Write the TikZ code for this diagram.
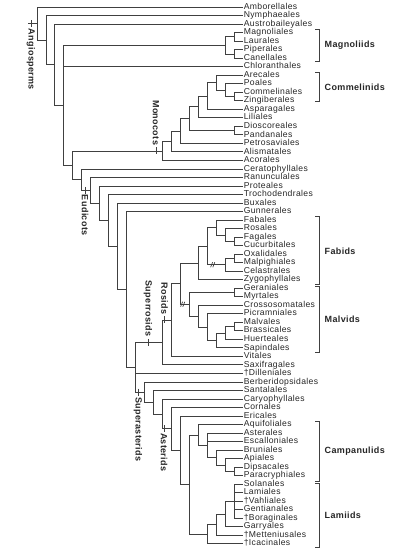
\documentclass[tikz,border=0pt]{standalone}
\usepackage{fontspec}
\setmainfont{Liberation Sans}
\newfontfamily\treefont[LetterSpace=4]{Liberation Sans}
\usetikzlibrary{calc}
\tikzset{
  leaf/.style={anchor=west, inner xsep=0.6pt, inner ysep=0pt, text=black!85,
    text height=6.2pt, text depth=1.8pt,
    font=\treefont\fontsize{8.6}{8.6}\selectfont},
  br/.style={draw=black!75, line width=0.7pt},
  brk/.style={draw=black!75, line width=0.7pt},
  grp/.style={inner sep=0.5pt, text=black!85,
    font=\treefont\fontsize{9}{9}\selectfont\bfseries},
  vgrp/.style={grp, rotate=-90}
}
% clade: name, height, first child, last child, all children
\newcommand\clade[5]{%
  \path let \p1=($(#3)!.5!(#4)$) in ({243pt-8.96pt*#2},\y1) coordinate (#1);
  \foreach \c in {#5} \draw[br] (#1) |- (\c);}

\begin{document}
\begin{tikzpicture}[x=1pt, y=-1pt]
\useasboundingbox (0,0) rectangle (417,557);

% orders, top to bottom
\foreach \t [count=\i] in {Amborellales, Nymphaeales, Austrobaileyales,
  Magnoliales, Laurales, Piperales, Canellales, Chloranthales, Arecales,
  Poales, Commelinales, Zingiberales, Asparagales, Liliales, Dioscoreales,
  Pandanales, Petrosaviales, Alismatales, Acorales, Ceratophyllales,
  Ranunculales, Proteales, Trochodendrales, Buxales, Gunnerales, Fabales,
  Rosales, Fagales, Cucurbitales, Oxalidales, Malpighiales, Celastrales,
  Zygophyllales, Geraniales, Myrtales, Crossosomatales, Picramniales,
  Malvales, Brassicales, Huerteales, Sapindales, Vitales, Saxifragales,
  †Dilleniales, Berberidopsidales, Santalales, Caryophyllales, Cornales,
  Ericales, Aquifoliales, Asterales, Escalloniales, Bruniales, Apiales,
  Dipsacales, Paracryphiales, Solanales, Lamiales, †Vahliales, Gentianales,
  †Boraginales, Garryales, †Metteniusales, †Icacinales}
  \node[leaf] (l\i) at (243, {7+(\i-1)*8.52}) {\t};

% magnoliids
\clade{ml}{1}{l4}{l5}{l4,l5}
\clade{pc}{1}{l6}{l7}{l6,l7}
\clade{magn}{2}{ml}{pc}{ml,pc}
% monocots
\clade{cw}{1}{l11}{l12}{l11,l12}
\clade{cpz}{2}{l10}{cw}{l10,cw}
\clade{cmd}{3}{l9}{cpz}{l9,cpz}
\clade{asq}{4}{cmd}{l13}{cmd,l13}
\clade{lln}{5}{asq}{l14}{asq,l14}
\clade{dp}{1}{l15}{l16}{l15,l16}
\clade{ndl}{6}{lln}{dp}{lln,dp}
\clade{npt}{7}{ndl}{l17}{ndl,l17}
\clade{nal}{8}{npt}{l18}{npt,l18}
\clade{mono}{9}{nal}{l19}{nal,l19}
% fabids
\clade{fc}{1}{l28}{l29}{l28,l29}
\clade{rfc}{2}{l27}{fc}{l27,fc}
\clade{nfx}{3}{l26}{rfc}{l26,rfc}
\clade{om}{1}{l30}{l31}{l30,l31}
\clade{com}{2}{om}{l32}{om,l32}
\clade{nfc}{4}{nfx}{com}{nfx,com}
\clade{fab}{5}{nfc}{l33}{nfc,l33}
% malvids
\clade{gm}{1}{l34}{l35}{l34,l35}
\clade{mb}{1}{l38}{l39}{l38,l39}
\clade{mbh}{2}{mb}{l40}{mb,l40}
\clade{mbs}{3}{mbh}{l41}{mbh,l41}
\clade{pic}{4}{l37}{mbs}{l37,mbs}
\clade{cro}{5}{l36}{pic}{l36,pic}
\clade{malv}{6}{gm}{cro}{gm,cro}
\clade{fm}{7}{fab}{malv}{fab,malv}
\clade{ros}{8}{fm}{l42}{fm,l42}
\clade{srs}{9}{ros}{l43}{ros,l43}
% campanulids, lamiids
\clade{dpp}{1}{l55}{l56}{l55,l56}
\clade{adp}{2}{l54}{dpp}{l54,dpp}
\clade{badp}{3}{l53}{adp}{l53,adp}
\clade{aeb}{4}{l51}{badp}{l51,l52,badp}
\clade{camp}{5}{l50}{aeb}{l50,aeb}
\clade{lpol}{1}{l57}{l61}{l57,l58,l59,l60,l61}
\clade{lgar}{2}{lpol}{l62}{lpol,l62}
\clade{lmet}{3}{lgar}{l63}{lgar,l63}
\clade{lam}{4}{lmet}{l64}{lmet,l64}
\clade{cl}{6}{camp}{lam}{camp,lam}
\clade{el}{7}{l49}{cl}{l49,cl}
\clade{ast}{8}{l48}{el}{l48,el}
\clade{ca}{9}{l47}{ast}{l47,ast}
\clade{sca}{10}{l46}{ca}{l46,ca}
\clade{sas}{11}{l45}{sca}{l45,sca}
% backbone
\clade{core}{12}{srs}{sas}{srs,l44,sas}
\clade{nd}{13}{l25}{core}{l25,core}
\clade{nc}{14}{l24}{nd}{l24,nd}
\clade{nb}{15}{l23}{nc}{l23,nc}
\clade{na}{16}{l22}{nb}{l22,nb}
\clade{eud}{17}{l21}{na}{l21,na}
\clade{cer}{18}{l20}{eud}{l20,eud}
\clade{mes}{19}{mono}{cer}{mono,cer}
\clade{mesa}{20}{magn}{mes}{magn,l8,mes}
\clade{n55}{21}{l3}{mesa}{l3,mesa}
\clade{n46}{22}{l2}{n55}{l2,n55}
\clade{root}{23}{l1}{n46}{l1,n46}

% root stem
\path let \p1=(root) in (28pt,\y1) coordinate (rb) (31pt,\y1) coordinate (tang);
\draw[br] (rb) -- (root);

% clade marks
\path let \p1=(mono) in (156pt,\y1) coordinate (tmono);
\path let \p1=(eud) in (85pt,\y1) coordinate (teud);
\path let \p1=(srs) in (148pt,\y1) coordinate (tsrs);
\path let \p1=(ros) in (164.5pt,\y1) coordinate (tros);
\path let \p1=(sas) in (138pt,\y1) coordinate (tsas);
\path let \p1=(ast) in (164pt,\y1) coordinate (tast);
\foreach \m in {tang,tmono,teud,tsrs,tros,tsas,tast}
  \draw[br] ([yshift=3.5pt]\m) -- ([yshift=-3.5pt]\m);

\node[vgrp, anchor=west] at ([yshift=-4.5pt]tang) {Angiosperms};
\node[vgrp, anchor=east] at ([yshift=5pt]tmono) {Monocots};
\node[vgrp, anchor=west] at ([yshift=-4pt]teud) {Eudicots};
\node[vgrp, anchor=east] at ([yshift=5pt]tsrs) {Superrosids};
\node[vgrp, anchor=east] at ([yshift=5pt]tros) {Rosids};
\node[vgrp, anchor=west] at ([yshift=-4.5pt]tsas) {Superasterids};
\node[vgrp, anchor=west] at ([yshift=-3.5pt]tast) {Asterids};

% uncertain placement marks
\path let \p1=(com) in (213pt,\y1) coordinate (scom);
\path let \p1=(malv) in (183pt,\y1) coordinate (smalv);
\foreach \m in {scom,smalv} {
  \draw[br] ([shift={(-2.4pt,-2.5pt)}]\m) -- ++(2pt,5pt);
  \draw[br] ([shift={(-0.2pt,-2.5pt)}]\m) -- ++(2pt,5pt);
}

% brackets
\draw[brk] (315,29) -| (319,61) -- (315,61);
\draw[brk] (315,72) -| (319,101) -- (315,101);
\draw[brk] (315,216) -| (319,284) -- (315,284);
\draw[brk] (315,286.5) -| (319,352) -- (315,352);
\draw[brk] (315,421) -| (319,481.5) -- (315,481.5);
\draw[brk] (315,483) -| (319,547) -- (315,547);

\node[grp, anchor=west] (gmag) at (324,45) {Magnoliids};
\node[grp, anchor=west] (gcom) at (324,87) {Commelinids};
\node[grp, anchor=west] (gfab) at (324,251) {Fabids};
\node[grp, anchor=west] (gmal) at (324,319) {Malvids};
\node[grp, anchor=west] (gcam) at (324,451) {Campanulids};
\node[grp, anchor=west] (glam) at (324,515) {Lamiids};
\end{tikzpicture}
\end{document}
